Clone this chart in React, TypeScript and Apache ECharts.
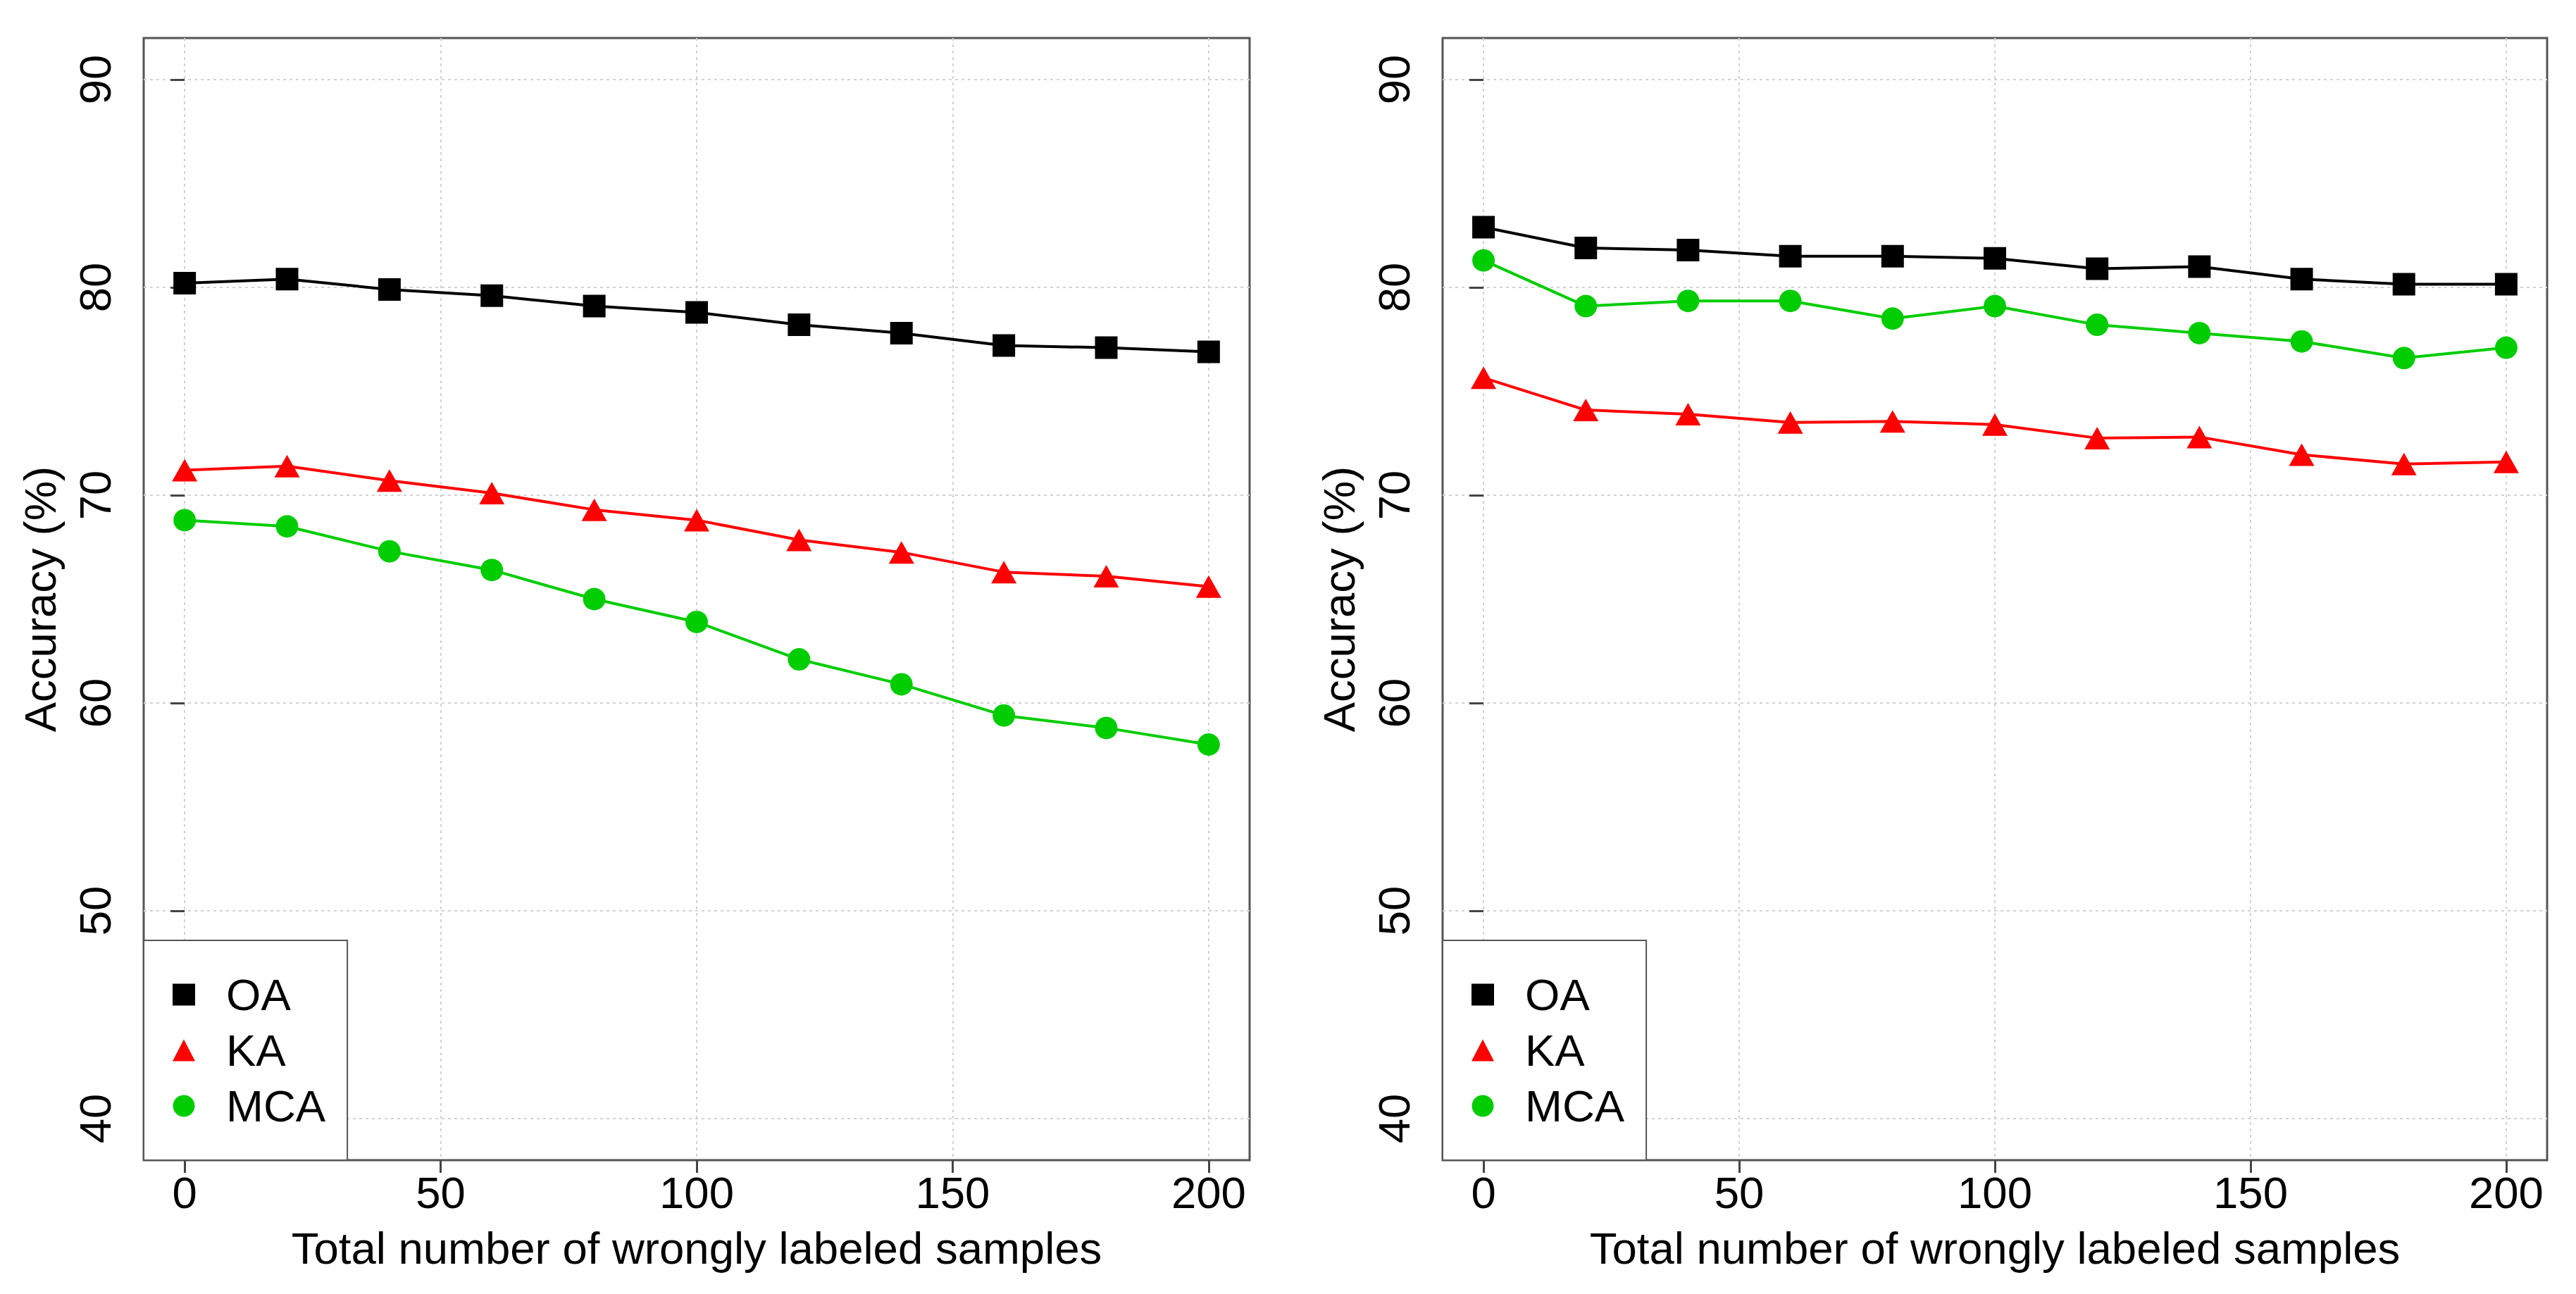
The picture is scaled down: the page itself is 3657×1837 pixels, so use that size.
import React, { useEffect, useRef } from "react";
import * as echarts from "echarts";

const xValues = [0, 20, 40, 60, 80, 100, 120, 140, 160, 180, 200];
const xTicks = [0, 50, 100, 150, 200];
const yTicks = [40, 50, 60, 70, 80, 90];
const seriesNames = ["OA", "KA", "MCA"];

const leftOA = [80.2, 80.4, 79.9, 79.6, 79.1, 78.8, 78.2, 77.8, 77.2, 77.1, 76.9];
const leftKA = [71.2, 71.4, 70.7, 70.1, 69.3, 68.8, 67.85, 67.25, 66.3, 66.1, 65.6];
const leftMCA = [68.8, 68.5, 67.3, 66.4, 65.0, 63.9, 62.1, 60.9, 59.4, 58.8, 58.0];

const rightOA = [82.9, 81.9, 81.8, 81.5, 81.5, 81.4, 80.9, 81.0, 80.4, 80.15, 80.15];
const rightKA = [75.65, 74.1, 73.9, 73.5, 73.55, 73.4, 72.75, 72.8, 71.95, 71.5, 71.6];
const rightMCA = [81.3, 79.1, 79.35, 79.35, 78.5, 79.1, 78.2, 77.8, 77.4, 76.6, 77.1];

const xTitle = "Total number of wrongly labeled samples";
const yTitle = "Accuracy (%)";

const FONT = "'Liberation Sans', Arial, Helvetica, sans-serif";
const FS = 63.5;
const COLORS = ["#000000", "#FF0000", "#00CD00"];
const SYMBOLS = ["rect", "triangle", "circle"];
const SYMBOL_SIZES: any[] = [32, [36, 32], 32];

export default function App() {
  const ref = useRef<HTMLDivElement>(null);

  useEffect(() => {
    if (!ref.current) return;
    const chart = echarts.init(ref.current, null, { renderer: "svg" });

    const grids = [
      { left: 204, top: 54, width: 1570, height: 1593 },
      { left: 2048, top: 54, width: 1568, height: 1593 },
    ].map((g) => ({
      ...g,
      show: true,
      borderColor: "#555",
      borderWidth: 3,
      backgroundColor: "transparent",
      containLabel: false,
    }));

    const axisColor = "#444";
    const gridLine = { show: true, lineStyle: { color: "#d2d2d2", type: [4, 5], width: 2 } };

    const xAxes = [0, 1].map((i) => ({
      type: "value",
      gridIndex: i,
      min: -8,
      max: 208,
      axisLine: { show: false },
      axisTick: { show: true, length: 18, customValues: xTicks, lineStyle: { color: axisColor, width: 3 } },
      axisLabel: { customValues: xTicks, fontSize: FS, color: "#000", margin: 14, fontFamily: FONT },
      splitLine: gridLine,
      name: xTitle,
      nameLocation: "middle",
      nameGap: 93,
      nameTextStyle: { fontSize: FS, color: "#000", fontFamily: FONT },
    }));

    const yAxes = [0, 1].map((i) => ({
      type: "value",
      gridIndex: i,
      min: 38,
      max: 92,
      axisLine: { show: false },
      axisTick: { show: true, length: 20, customValues: yTicks, lineStyle: { color: axisColor, width: 3 } },
      axisLabel: { customValues: yTicks, rotate: 90, fontSize: FS, color: "#000", margin: 37, fontFamily: FONT },
      splitLine: gridLine,
      name: yTitle,
      nameLocation: "middle",
      nameRotate: 90,
      nameGap: 115,
      nameTextStyle: { fontSize: FS, color: "#000", fontFamily: FONT },
    }));

    const panels = [
      [leftOA, leftKA, leftMCA],
      [rightOA, rightKA, rightMCA],
    ];
    const series: any[] = [];
    panels.forEach((arrs, p) => {
      arrs.forEach((arr, k) => {
        series.push({
          type: "line",
          name: seriesNames[k],
          xAxisIndex: p,
          yAxisIndex: p,
          data: xValues.map((x, j) => [x, arr[j]]),
          symbol: SYMBOLS[k],
          symbolSize: SYMBOL_SIZES[k],
          showAllSymbol: true,
          lineStyle: { color: COLORS[k], width: 4 },
          itemStyle: { color: COLORS[k] },
          z: 3 + k,
        });
      });
    });

    const legends = [204, 2048].map((left) => ({
      orient: "vertical",
      left,
      bottom: 190,
      data: seriesNames.map((n, k) => ({ name: n, icon: SYMBOLS[k] })),
      itemWidth: 32,
      itemHeight: 31,
      itemGap: 15,
      padding: [45, 31, 45, 41],
      borderColor: "#555",
      borderWidth: 2,
      backgroundColor: "#ffffff",
      selectedMode: false,
      textStyle: { fontSize: FS, color: "#000", fontFamily: FONT, padding: [0, 0, 0, 39] },
      z: 10,
    }));

    chart.setOption({
      animation: false,
      backgroundColor: "#ffffff",
      grid: grids,
      xAxis: xAxes,
      yAxis: yAxes,
      legend: legends,
      series,
    });

    return () => chart.dispose();
  }, []);

  return (
    <div
      ref={ref}
      style={{ position: "absolute", left: 0, top: 0, width: 3657, height: 1837, background: "#fff" }}
    />
  );
}
